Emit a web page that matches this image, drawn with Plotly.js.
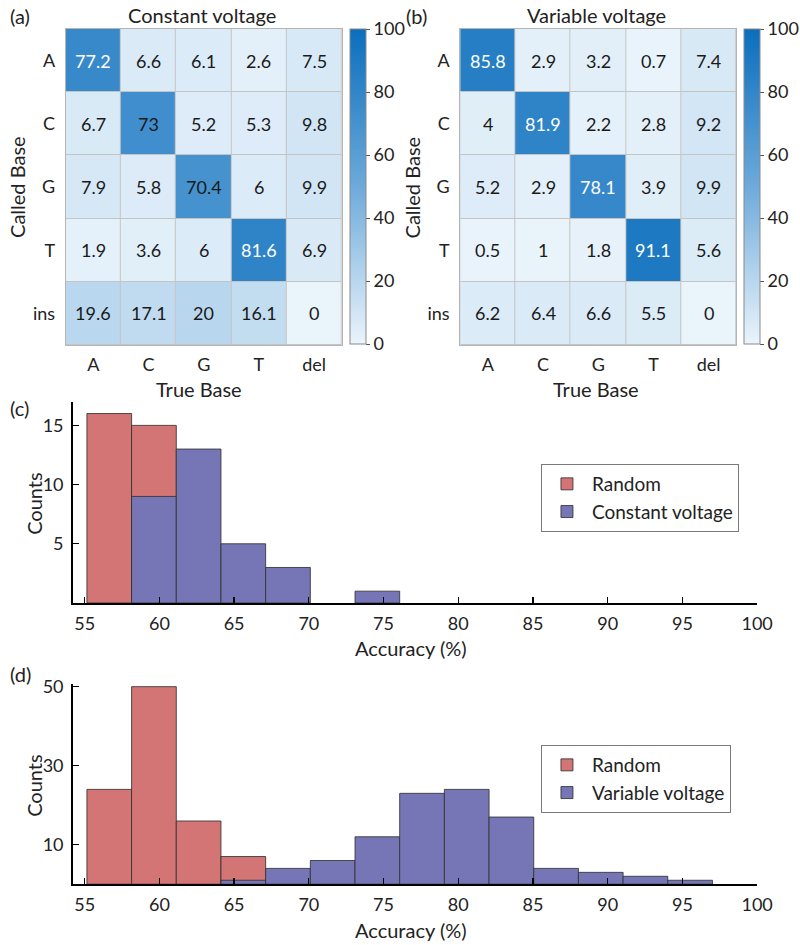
<!DOCTYPE html>
<html>
<head>
<meta charset="utf-8">
<script src="https://cdn.plot.ly/plotly-3.0.1.min.js"></script>
<style>html,body{margin:0;padding:0;background:#fff;}#chart{width:800px;height:945px;}</style>
</head>
<body>
<div id="chart"></div>
<script>
// ---- data ----
const heatCols = ["A", "C", "G", "T", "del"];
const heatRows = ["A", "C", "G", "T", "ins"];
const constantZ = [
  [77.2, 6.6, 6.1, 2.6, 7.5],
  [6.7, 73, 5.2, 5.3, 9.8],
  [7.9, 5.8, 70.4, 6, 9.9],
  [1.9, 3.6, 6, 81.6, 6.9],
  [19.6, 17.1, 20, 16.1, 0]
];
const variableZ = [
  [85.8, 2.9, 3.2, 0.7, 7.4],
  [4, 81.9, 2.2, 2.8, 9.2],
  [5.2, 2.9, 78.1, 3.9, 9.9],
  [0.5, 1, 1.8, 91.1, 5.6],
  [6.2, 6.4, 6.6, 5.5, 0]
];
const binStart = 55.15;
const binWidth = 2.99;
const randomC = [16, 15, 0, 0, 0, 0, 0, 0, 0, 0, 0, 0, 0, 0];
const constantCounts = [0, 9, 13, 5, 3, 0, 1, 0, 0, 0, 0, 0, 0, 0];
const randomD = [24, 50, 16, 7, 0, 0, 0, 0, 0, 0, 0, 0, 0, 0];
const variableCounts = [0, 0, 0, 1, 4, 6, 12, 23, 24, 17, 4, 3, 2, 1];
const accTicks = [55, 60, 65, 70, 75, 80, 85, 90, 95, 100];

// ---- helpers ----
const FONT = "Lato, 'Open Sans', sans-serif";
const W = 800, H = 945;
const px = v => v / W;
const py = v => 1 - v / H;
const RED = "rgb(212,117,117)";
const BLUE = "rgb(118,118,182)";
const EDGE = "rgba(50,50,50,0.85)";
const colorscale = [[0, "rgb(234,244,251)"], [0.5, "rgb(110,170,218)"], [1, "rgb(10,110,189)"]];

function binBars(counts, name, color, xa, ya, legend) {
  const x = [], y = [];
  counts.forEach((c, i) => { if (c > 0) { x.push(binStart + binWidth * (i + 0.5)); y.push(c); } });
  return {
    type: "bar", x: x, y: y, width: binWidth, name: name,
    xaxis: xa, yaxis: ya, legend: legend,
    marker: { color: color, line: { color: EDGE, width: 1 } },
    hoverinfo: "x+y"
  };
}

function heat(z, xa, ya, cbx) {
  return {
    type: "heatmap", z: z, x: heatCols, y: heatRows, xaxis: xa, yaxis: ya,
    colorscale: colorscale, zmin: 0, zmax: 100, xgap: 1, ygap: 1,
    showscale: true, hoverinfo: "x+y+z",
    colorbar: {
      x: px(cbx), xanchor: "left", y: py(186.5), yanchor: "middle",
      len: 315, lenmode: "pixels", thickness: 16, thicknessmode: "pixels",
      outlinecolor: "#8a8a8a", outlinewidth: 1,
      tickvals: [0, 20, 40, 60, 80, 100], ticks: "outside", ticklen: 4, tickcolor: "#555",
      tickfont: { family: FONT, size: 18, color: "#222" }, xpad: 0, ypad: 0
    }
  };
}

const traces = [
  heat(constantZ, "x", "y", 351),
  heat(variableZ, "x2", "y2", 747),
  binBars(randomC, "Random", RED, "x3", "y3", "legend"),
  binBars(constantCounts, "Constant voltage", BLUE, "x3", "y3", "legend"),
  binBars(randomD, "Random", RED, "x4", "y4", "legend2"),
  binBars(variableCounts, "Variable voltage", BLUE, "x4", "y4", "legend2")
];

const heatX = (d, anchor) => ({
  domain: d, anchor: anchor, type: "category", categoryarray: heatCols,
  showline: true, mirror: true, linecolor: "#b5b5b5", linewidth: 1,
  ticks: "", showgrid: false, zeroline: false, fixedrange: true,
  tickfont: { family: FONT, size: 18, color: "#222" }, ticklabelstandoff: 3
});
const heatY = (anchor) => ({
  domain: [py(345), py(29)], anchor: anchor, type: "category", categoryarray: heatRows,
  autorange: "reversed",
  showline: true, mirror: true, linecolor: "#b5b5b5", linewidth: 1,
  ticks: "", showgrid: false, zeroline: false, fixedrange: true,
  tickfont: { family: FONT, size: 18, color: "#222" }, ticklabelstandoff: 6
});
const histX = (anchor) => ({
  domain: [px(73), px(760)], anchor: anchor, range: [54.2, 100],
  tickvals: accTicks, ticks: "inside", ticklen: 6, tickwidth: 1.3, tickcolor: "#000",
  showline: true, linecolor: "#000", linewidth: 1.6, showgrid: false, zeroline: false,
  tickfont: { family: FONT, size: 18, color: "#222" }, ticklabelstandoff: 4
});
const histY = (dom, range, ticks, anchor) => ({
  domain: dom, anchor: anchor, range: range, tickvals: ticks,
  ticks: "inside", ticklen: 6, tickwidth: 1.3, tickcolor: "#000",
  showline: true, linecolor: "#000", linewidth: 1.6, showgrid: false, zeroline: false,
  tickfont: { family: FONT, size: 18, color: "#222" }, ticklabelstandoff: 4
});

const annotations = [];
function label(text, x, y, opts) {
  annotations.push(Object.assign({
    text: text, xref: "paper", yref: "paper", x: px(x), y: py(y),
    xanchor: "center", yanchor: "middle", showarrow: false,
    font: { family: FONT, size: 20, color: "#222" }
  }, opts || {}));
}
label("(a)", 8, 16, { xanchor: "left" });
label("(b)", 406, 16, { xanchor: "left" });
label("(c)", 8, 408, { xanchor: "left" });
label("(d)", 8, 674, { xanchor: "left" });
label("Constant voltage", 203, 15);
label("Variable voltage", 599, 15);
label("Called Base", 17, 187, { textangle: -90 });
label("Called Base", 414, 187, { textangle: -90 });
label("True Base", 200, 389);
label("True Base", 598, 389);
label("Counts", 34, 503, { textangle: -90 });
label("Counts", 34, 785, { textangle: -90 });
label("Accuracy (%)", 413, 648);
label("Accuracy (%)", 413, 930);

// cell values
[[constantZ, "x", "y"], [variableZ, "x2", "y2"]].forEach(([z, xa, ya]) => {
  z.forEach((row, i) => row.forEach((v, j) => {
    annotations.push({
      text: String(v), x: heatCols[j], y: heatRows[i], xref: xa, yref: ya,
      showarrow: false, font: { family: FONT, size: 18, color: v > 75 ? "#ffffff" : "#1a1a1a" }
    });
  }));
});

const legendStyle = (y) => ({
  x: px(543), y: py(y), xanchor: "left", yanchor: "top",
  bgcolor: "#fff", bordercolor: "#7a7a7a", borderwidth: 1,
  font: { family: FONT, size: 19, color: "#222" }, itemwidth: 40, tracegroupgap: 0
});

const layout = {
  width: W, height: H, margin: { l: 0, r: 0, t: 0, b: 0 },
  paper_bgcolor: "#fff", plot_bgcolor: "#fff",
  font: { family: FONT, color: "#222" },
  barmode: "overlay", bargap: 0, showlegend: true,
  xaxis: heatX([px(66), px(343)], "y"),
  yaxis: heatY("x"),
  xaxis2: heatX([px(462), px(739)], "y2"),
  yaxis2: heatY("x2"),
  xaxis3: histX("y3"),
  yaxis3: histY([py(603), py(401.7)], [0, 17], [5, 10, 15], "x3"),
  xaxis4: histX("y4"),
  yaxis4: histY([py(884.2), py(683.7)], [0, 50.75], [10, 30, 50], "x4"),
  legend: legendStyle(464),
  legend2: legendStyle(745),
  shapes: [
    { type: "rect", xref: "x domain", yref: "y domain", x0: 0, x1: 1, y0: 0, y1: 1, layer: "below", fillcolor: "#c4c4c4", line: { width: 0 } },
    { type: "rect", xref: "x2 domain", yref: "y2 domain", x0: 0, x1: 1, y0: 0, y1: 1, layer: "below", fillcolor: "#c4c4c4", line: { width: 0 } }
  ],
  annotations: annotations
};

Plotly.newPlot("chart", traces, layout, { displayModeBar: false, staticPlot: true });
</script>
</body>
</html>
